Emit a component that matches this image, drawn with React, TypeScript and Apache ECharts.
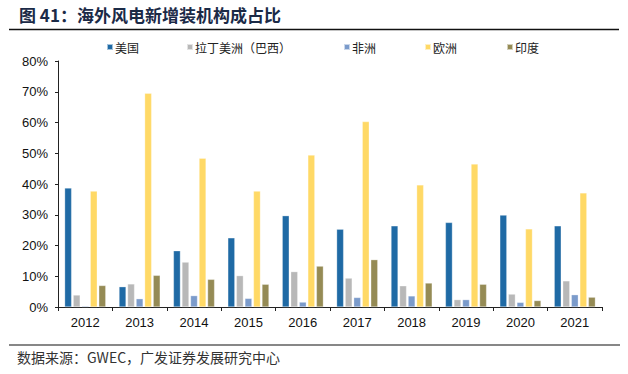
import React, { useEffect, useRef } from "react";
import * as echarts from "echarts";

const years = ["2012", "2013", "2014", "2015", "2016", "2017", "2018", "2019", "2020", "2021"];
const seriesNames = ["美国", "拉丁美洲（巴西）", "非洲", "欧洲", "印度"];
const usa = [38.7, 6.6, 18.3, 22.5, 29.7, 25.3, 26.4, 27.5, 29.9, 26.4];
const latam = [3.9, 7.5, 14.6, 10.2, 11.5, 9.4, 6.9, 2.4, 4.2, 8.5];
const africa = [0.3, 2.7, 3.7, 2.8, 1.6, 3.1, 3.6, 2.4, 1.5, 4.0];
const europe = [37.7, 69.5, 48.4, 37.7, 49.4, 60.3, 39.7, 46.5, 25.4, 37.1];
const india = [7.0, 10.3, 9.0, 7.4, 13.3, 15.4, 7.8, 7.4, 2.1, 3.2];
const colors = ["#1F6AA5", "#B8B8B8", "#7B9BCB", "#FFD966", "#958B55"];
const legendLeft = [102, 182, 339, 420, 502];

export default function App() {
  const ref = useRef<HTMLDivElement>(null);
  useEffect(() => {
    if (!ref.current) return;
    const chart = echarts.init(ref.current, null, { renderer: "svg" });
    const values = [usa, latam, africa, europe, india];
    const cjk = "'Noto Sans CJK SC', sans-serif";
    chart.setOption({
      animation: false,
      backgroundColor: "#fff",
      grid: { left: 58, right: 26, top: 61, bottom: 67 },
      legend: seriesNames.map((n, i) => ({
        data: [n],
        left: legendLeft[i] - 1,
        top: 36,
        itemWidth: 6,
        itemHeight: 6,
        icon: "rect",
        textStyle: { fontSize: 12, color: "#222", fontFamily: cjk, padding: [0, 0, 0, -3] },
      })),
      xAxis: {
        type: "category",
        data: years,
        axisLine: { lineStyle: { color: "#222", width: 1 } },
        axisTick: { show: true, length: 4, lineStyle: { color: "#222" } },
        axisLabel: { fontSize: 13, color: "#111", fontFamily: "Arial, 'Liberation Sans', sans-serif", margin: 9 },
      },
      yAxis: {
        type: "value",
        min: 0,
        max: 80,
        interval: 10,
        axisLine: { show: true, lineStyle: { color: "#222", width: 1 } },
        axisTick: { show: true, length: 3, lineStyle: { color: "#222" } },
        splitLine: { show: false },
        axisLabel: {
          formatter: "{value}%",
          fontSize: 13,
          color: "#111",
          fontFamily: "Arial, 'Liberation Sans', sans-serif",
          margin: 10,
        },
      },
      series: seriesNames.map((n, i) => ({
        name: n,
        type: "bar",
        data: values[i],
        barWidth: 7,
        barGap: "22%",
        itemStyle: { color: colors[i], borderColor: "rgba(255,255,255,0.6)", borderWidth: 0.5 },
      })),
      graphic: [
        {
          type: "text",
          left: 19,
          top: 6,
          style: {
            text: "图 41：海外风电新增装机构成占比",
            fontSize: 17,
            fontWeight: "bold",
            fill: "#1B2A47",
            fontFamily: cjk,
          },
        },
        {
          type: "line",
          shape: { x1: 9, y1: 29.5, x2: 619, y2: 29.5 },
          style: { stroke: "#111", lineWidth: 1.5 },
        },
        {
          type: "line",
          shape: { x1: 9, y1: 345, x2: 620, y2: 345 },
          style: { stroke: "#111", lineWidth: 1.2 },
        },
        {
          type: "text",
          left: 17,
          top: 350,
          style: {
            text: "数据来源：GWEC，广发证券发展研究中心",
            fontSize: 14,
            fill: "#333",
            fontFamily: cjk,
          },
        },
      ],
    });
    return () => chart.dispose();
  }, []);
  return <div ref={ref} style={{ width: 628, height: 374, position: "absolute", left: 0, top: 0 }} />;
}
